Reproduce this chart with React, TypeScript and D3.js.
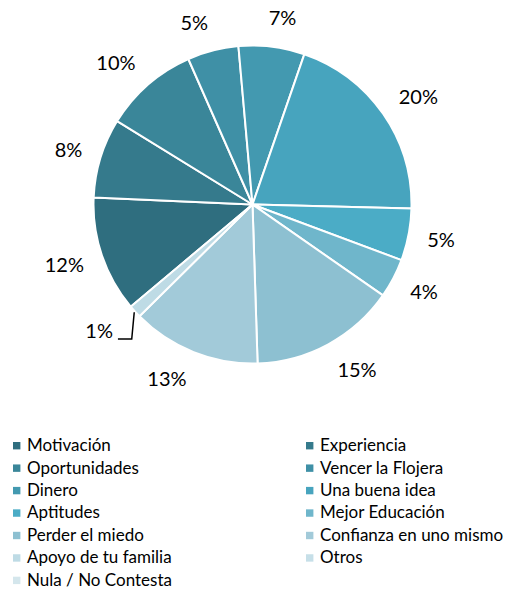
import React, { useEffect, useRef } from 'react';
import * as d3 from 'd3';

const categories = [
  'Motivación', 'Experiencia', 'Oportunidades', 'Vencer la Flojera', 'Dinero',
  'Una buena idea', 'Aptitudes', 'Mejor Educación', 'Perder el miedo',
  'Confianza en uno mismo', 'Apoyo de tu familia', 'Otros', 'Nula / No Contesta',
];
const values = [11.8, 8.1, 9.6, 5.2, 6.7, 20.1, 5.3, 4.0, 14.8, 13.1, 1.3, 0, 0];
const colors = [
  '#2f6e7f', '#357a8c', '#3a8699', '#3f90a6', '#4399b0', '#47a4be', '#4bacc6',
  '#6fb6cb', '#8dc0d1', '#a2cad9', '#bedbe5', '#c6dfe8', '#d4e6ec',
];

const W = 509;
const H = 591;

const App: React.FC = () => {
  const svgRef = useRef<SVGSVGElement>(null);

  useEffect(() => {
    if (!svgRef.current) return;
    const svg = d3.select(svgRef.current);
    svg.selectAll('*').remove();

    const cx = 252.5;
    const cy = 204.5;
    const r = 159;
    const start = (230 * Math.PI) / 180;
    const total = d3.sum(values);

    const pie = d3.pie<number>().sort(null).value(d => d)
      .startAngle(start).endAngle(start + Math.PI * 2);
    const arcs = pie(values);
    const arc = d3.arc<d3.PieArcDatum<number>>().innerRadius(0).outerRadius(r);

    const g = svg.append('g').attr('transform', `translate(${cx},${cy})`);

    g.selectAll('path.slice')
      .data(arcs.filter(d => d.value > 0))
      .enter()
      .append('path')
      .attr('class', 'slice')
      .attr('d', arc)
      .attr('fill', d => colors[d.index])
      .attr('stroke', '#fff')
      .attr('stroke-width', 2)
      .attr('stroke-linejoin', 'round');

    // data labels, outside end (box edge sits on the anchor point)
    const fs = 20;
    const labels = g.append('g')
      .style('font-family', 'Lato, sans-serif')
      .style('font-size', `${fs}px`)
      .attr('fill', '#000');

    arcs.filter(d => d.value > 0).forEach(d => {
      const a = (d.startAngle + d.endAngle) / 2;
      const ux = Math.sin(a);
      const uy = -Math.cos(a);
      const pct = Math.round((d.value / total) * 100);
      const small = pct < 2;
      const t = labels.append('text')
        .attr('text-anchor', 'middle')
        .text(`${pct}%`);
      const w = (t.node() as SVGTextElement).getComputedTextLength();
      const R = r + 19;
      const side = Math.max(-1, Math.min(1, ux * 5));
      const lx = ux * R + side * (w / 2 + (small ? 8 : 0));
      const ly = uy * R + uy * 10;
      t.attr('x', lx).attr('y', ly + fs * 0.36);

      if (small) {
        const ax = ux * (r + 1);
        const ay = uy * (r + 1);
        const bottom = ly + 8;
        labels.append('path')
          .attr('d', `M${ax},${ay}L${ax - 2.5},${bottom}L${lx + w / 2 + 5},${bottom}`)
          .attr('fill', 'none')
          .attr('stroke', '#000')
          .attr('stroke-width', 1.5);
      }
    });

    // legend
    const legend = svg.append('g')
      .style('font-family', 'Lato, sans-serif')
      .style('font-size', '17px');
    const colX = [13, 306];
    const rowY = d3.scaleLinear().domain([0, 1]).range([445.7, 468.15]);
    categories.forEach((name, i) => {
      const x = colX[i % 2];
      const y = rowY(Math.floor(i / 2));
      legend.append('rect')
        .attr('x', x)
        .attr('y', y - 3.7)
        .attr('width', 7.4)
        .attr('height', 7.4)
        .attr('fill', colors[i]);
      legend.append('text')
        .attr('x', x + 14)
        .attr('y', y + 5.4)
        .attr('fill', '#000')
        .text(name);
    });
  }, []);

  return (
    <svg
      ref={svgRef}
      width={W}
      height={H}
      style={{ position: 'absolute', left: 0, top: 0, background: '#fff' }}
    />
  );
};

export default App;
